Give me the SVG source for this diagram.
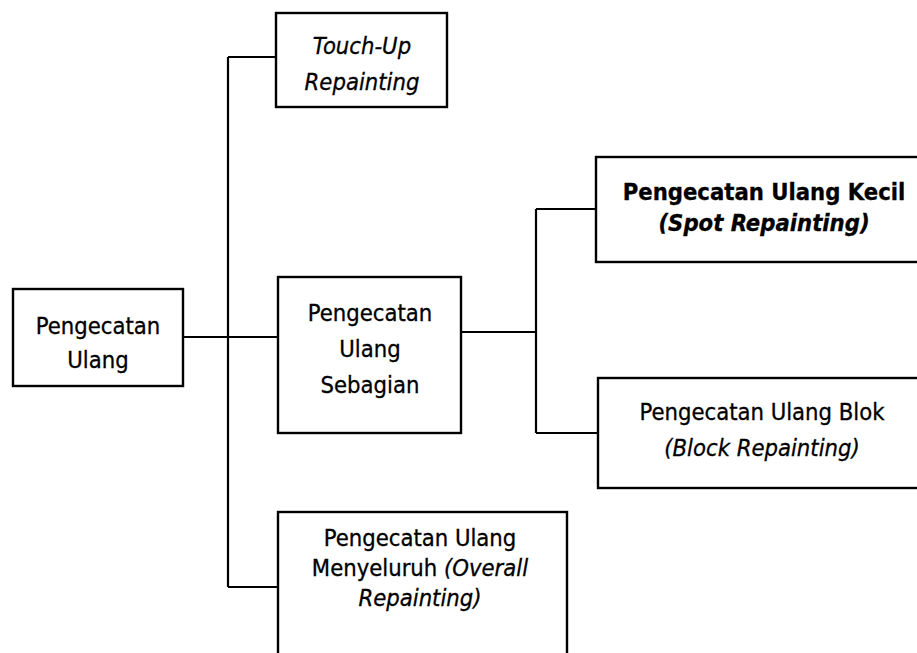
<svg xmlns="http://www.w3.org/2000/svg" width="917" height="653" viewBox="0 0 917 653">
<style>
.box{fill:#fff;stroke:#000;stroke-width:2.4}
.ln{fill:none;stroke:#000;stroke-width:2.2}
text{font-family:"DejaVu Sans Condensed","DejaVu Sans",sans-serif;font-size:23.6px;fill:#000;text-anchor:middle;stroke:#000;stroke-width:0.3}
.i{font-style:italic}
.b{font-weight:bold}
</style>
<rect width="917" height="653" fill="#fff"/>
<g id="connectors">
<path class="ln" d="M228 57V587M228 57H276M228 587H278M183 337H278"/>
<path class="ln" d="M461 332H536M536 209V433M536 209H596M536 433H598"/>
</g>
<g id="root">
<rect class="box" x="13" y="289" width="170" height="97"/>
<text x="98" y="334">Pengecatan</text>
<text x="98" y="368">Ulang</text>
</g>
<g id="touchup">
<rect class="box" x="276" y="13" width="171" height="94"/>
<text class="i" x="362" y="54">Touch-Up</text>
<text class="i" x="362" y="90">Repainting</text>
</g>
<g id="sebagian">
<rect class="box" x="278" y="277" width="183" height="156"/>
<text x="370" y="321">Pengecatan</text>
<text x="370" y="357">Ulang</text>
<text x="370" y="393">Sebagian</text>
</g>
<g id="menyeluruh">
<rect class="box" x="278" y="512" width="289" height="150"/>
<text x="420" y="546">Pengecatan Ulang</text>
<text x="420" y="576">Menyeluruh <tspan class="i">(Overall</tspan></text>
<text class="i" x="420" y="606">Repainting)</text>
</g>
<g id="spot">
<rect class="box" x="596" y="157" width="340" height="105"/>
<text class="b" x="764" y="200">Pengecatan Ulang Kecil</text>
<text class="b i" x="764" y="231">(Spot Repainting)</text>
</g>
<g id="blok">
<rect class="box" x="598" y="378" width="340" height="110"/>
<text x="762" y="420">Pengecatan Ulang Blok</text>
<text class="i" x="762" y="456">(Block Repainting)</text>
</g>
</svg>
